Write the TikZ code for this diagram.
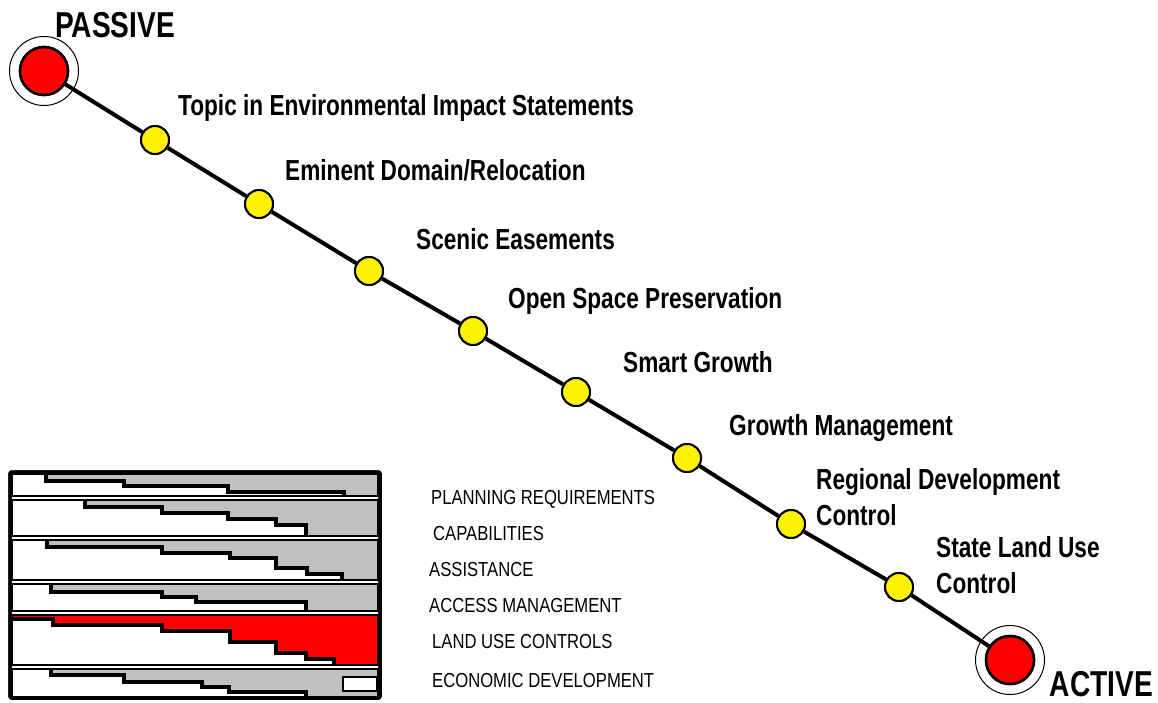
\documentclass[tikz,border=0pt]{standalone}
\usepackage{fontspec}
\newfontfamily\cnd{Liberation Sans}[FakeStretch=0.78]
\newfontfamily\cnds{Liberation Sans}[FakeStretch=0.82]
\definecolor{boxgray}{HTML}{C0C0C0}
\begin{document}
\begin{tikzpicture}[x=1pt,y=-1pt,
  big/.style={anchor=base west, inner sep=0pt, font=\cnd\bfseries\fontsize{29}{31}\selectfont},
  huge/.style={inner sep=0pt, font=\cnd\bfseries\fontsize{36}{38}\selectfont},
  small/.style={anchor=base west, inner sep=0pt, font=\cnds\fontsize{20.3}{22}\selectfont},
  dot/.style={circle, draw, line width=2pt, fill=yellow, minimum size=28pt, inner sep=0pt},
  ring/.style={circle, draw, line width=1pt, fill=white, minimum size=69pt, inner sep=0pt},
  reddisc/.style={circle, draw, line width=2.5pt, fill=red, minimum size=48pt, inner sep=0pt},
  stair/.style={line width=3.5pt, line join=miter},
  rowbox/.style={draw, line width=2.2pt},
  link/.style={line width=4pt}]
\useasboundingbox (0,0) rectangle (1158,702);

% ---- scale line ----
\node[ring] (pring) at (44,71) {};
\node[ring] (aring) at (1010,660) {};
\node[reddisc] (pas) at (44,71) {};
\node[reddisc] (act) at (1010,660) {};
\node[dot] (d1) at (155,140) {};
\node[dot] (d2) at (259,204) {};
\node[dot] (d3) at (369,271) {};
\node[dot] (d4) at (473,331) {};
\node[dot] (d5) at (576,392) {};
\node[dot] (d6) at (687,458) {};
\node[dot] (d7) at (791,524) {};
\node[dot] (d8) at (899,587) {};
\draw[link] (pas) -- (d1) -- (d2) -- (d3) -- (d4) -- (d5) -- (d6) -- (d7) -- (d8) -- (act);
\foreach \n in {d1,d2,d3,d4,d5,d6,d7,d8} {\node[dot] at (\n) {};}
\node[reddisc] at (pas) {};
\node[reddisc] at (act) {};

% ---- labels ----
\node[huge, anchor=base west] (lpas) at (55,37) {PASSIVE};
\node[huge, anchor=base east] (lact) at (1153,696) {ACTIVE};
\node[big] (l1) at (178,115) {Topic in Environmental Impact Statements};
\node[big] (l2) at (285,180) {Eminent Domain/Relocation};
\node[big] (l3) at (416,249) {Scenic Easements};
\node[big] (l4) at (508,308) {Open Space Preservation};
\node[big] (l5) at (623,372) {Smart Growth};
\node[big] (l6) at (729,435) {Growth Management};
\node[big] (l7a) at (816,489) {Regional Development};
\node[big] (l7b) at (816,525) {Control};
\node[big] (l8a) at (936,557) {State Land Use};
\node[big] (l8b) at (936,593) {Control};

% ---- bar box ----
\draw[line width=3.5pt, fill=white, rounded corners=2pt] (10,472) rectangle (380,698);

% row 1
\fill[boxgray] (46,474) -- (46,481) -- (124,481) -- (124,486) -- (228,486) -- (228,492) -- (344,492) -- (344,496) -- (378,496) -- (378,474) -- cycle;
\draw[stair] (46,474) -- (46,481) -- (124,481) -- (124,486) -- (228,486) -- (228,492) -- (344,492) -- (344,496);
\draw[rowbox] (12,474) rectangle (378,496);
% row 2
\fill[boxgray] (85,500) -- (85,507) -- (162,507) -- (162,513) -- (228,513) -- (228,519) -- (276,519) -- (276,525) -- (306,525) -- (306,536) -- (378,536) -- (378,500) -- cycle;
\draw[stair] (85,500) -- (85,507) -- (162,507) -- (162,513) -- (228,513) -- (228,519) -- (276,519) -- (276,525) -- (306,525) -- (306,536);
\draw[rowbox] (12,500) rectangle (378,536);
% row 3
\fill[boxgray] (47,540) -- (47,547) -- (162,547) -- (162,553) -- (230,553) -- (230,558) -- (276,558) -- (276,568) -- (307,568) -- (307,574) -- (342,574) -- (342,580) -- (378,580) -- (378,540) -- cycle;
\draw[stair] (47,540) -- (47,547) -- (162,547) -- (162,553) -- (230,553) -- (230,558) -- (276,558) -- (276,568) -- (307,568) -- (307,574) -- (342,574) -- (342,580);
\draw[rowbox] (12,540) rectangle (378,580);
% row 4
\fill[boxgray] (51,584) -- (51,592) -- (162,592) -- (162,597) -- (196,597) -- (196,602) -- (306,602) -- (306,611) -- (378,611) -- (378,584) -- cycle;
\draw[stair] (51,584) -- (51,592) -- (162,592) -- (162,597) -- (196,597) -- (196,602) -- (306,602) -- (306,611);
\draw[rowbox] (12,584) rectangle (378,611);
% row 5 (red)
\fill[red] (12,615) -- (12,619) -- (53,619) -- (53,625) -- (162,625) -- (162,631) -- (230,631) -- (230,642) -- (276,642) -- (276,653) -- (306,653) -- (306,659) -- (334,659) -- (334,665) -- (378,665) -- (378,615) -- cycle;
\draw[stair] (12,619) -- (53,619) -- (53,625) -- (162,625) -- (162,631) -- (230,631) -- (230,642) -- (276,642) -- (276,653) -- (306,653) -- (306,659) -- (334,659) -- (334,665);
\draw[rowbox] (12,615) rectangle (378,665);
% row 6
\fill[boxgray] (51,669) -- (51,675) -- (124,675) -- (124,682) -- (202,682) -- (202,687) -- (229,687) -- (229,692) -- (306,692) -- (306,697) -- (378,697) -- (378,669) -- cycle;
\draw[stair] (51,669) -- (51,675) -- (124,675) -- (124,682) -- (202,682) -- (202,687) -- (229,687) -- (229,692) -- (306,692) -- (306,697);
\draw[rowbox] (12,669) rectangle (378,697);
\draw[line width=2.2pt, fill=white] (343,677) rectangle (377,691);
\draw[line width=3.5pt, rounded corners=2pt] (10,472) rectangle (380,698);

% ---- legend labels ----
\node[small] (r1) at (431,504) {PLANNING REQUIREMENTS};
\node[small] (r2) at (433,540) {CAPABILITIES};
\node[small] (r3) at (429,576) {ASSISTANCE};
\node[small] (r4) at (429,612) {ACCESS MANAGEMENT};
\node[small] (r5) at (432,648) {LAND USE CONTROLS};
\node[small] (r6) at (432,687) {ECONOMIC DEVELOPMENT};
\end{tikzpicture}
\end{document}
